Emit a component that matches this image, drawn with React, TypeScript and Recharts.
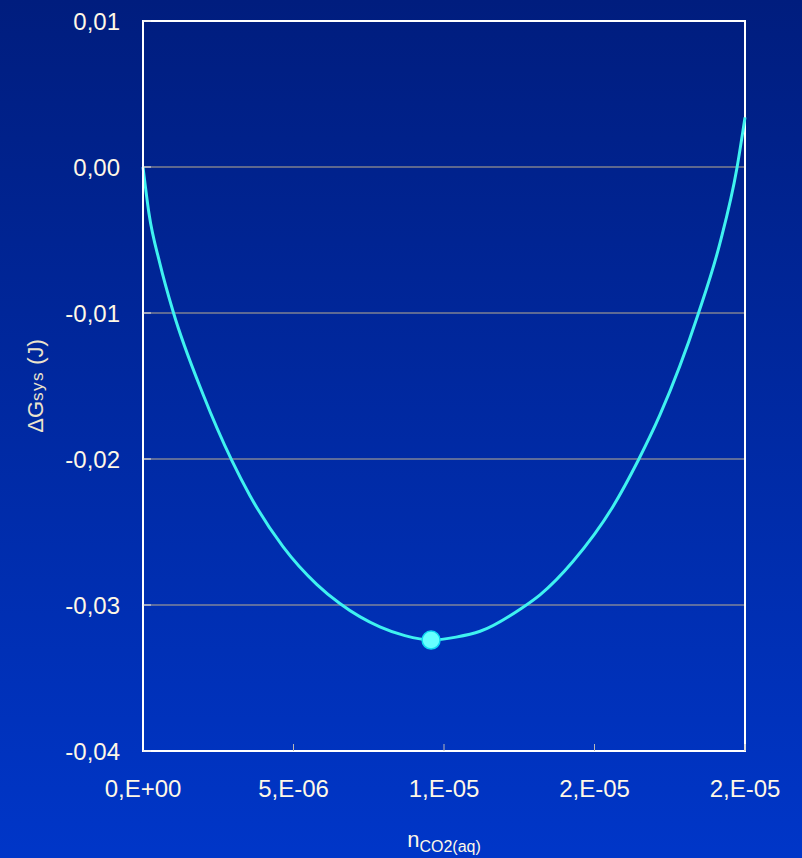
import React from "react";
import {
  LineChart,
  Line,
  XAxis,
  YAxis,
  CartesianGrid,
  ReferenceArea,
  ReferenceDot,
} from "recharts";

// n CO2(aq) in mol (read in units of 1e-6) and ΔGsys in J
const nCO2 = [0, 0.2, 0.56, 1.0, 2.0, 2.95, 3.55, 4.65, 5.78, 6.54, 7.87, 8.7, 9.57, 10.4, 11.2, 12.59, 13.19, 14.29, 15.6, 16.45, 17.17, 18.44, 19.17, 19.73, 20];
const dGsys = [0, -0.0032, -0.0066, -0.0099, -0.0156, -0.0201, -0.0225, -0.026, -0.0286, -0.0299, -0.0315, -0.0321, -0.0324, -0.0322, -0.0318, -0.0302, -0.0293, -0.027, -0.0233, -0.0201, -0.017, -0.0101, -0.0052, -0.0001, 0.0034];

// minimum marked on the curve
const minN = 9.57e-6;
const minG = -0.0324;

const xTicks = [0, 5e-6, 1e-5, 1.5e-5, 2e-5];
const xTickLabels = ["0,E+00", "5,E-06", "1,E-05", "2,E-05", "2,E-05"];
const yTicks = [-0.04, -0.03, -0.02, -0.01, 0, 0.01];
const yTickLabels = ["-0,04", "-0,03", "-0,02", "-0,01", "0,00", "0,01"];

const data = nCO2.map((n, i) => ({ n: n * 1e-6, g: dGsys[i] }));

const FONT = 'Arial, "Liberation Sans", sans-serif';
const TEXT = "#fff8e6";

const XAxisLabel = (props: any) => {
  const vb = props.viewBox;
  const cx = vb.x + vb.width / 2;
  return (
    <text x={cx} y={vb.y + 96} textAnchor="middle" fill={TEXT} fontFamily={FONT}>
      <tspan fontSize={22}>n</tspan>
      <tspan fontSize={16} dy={5}>CO2(aq)</tspan>
    </text>
  );
};

const YAxisLabel = (props: any) => {
  const vb = props.viewBox;
  const cy = vb.y + vb.height / 2;
  const x = 43;
  return (
    <text
      x={x}
      y={cy}
      textAnchor="middle"
      fill="#ece4cc"
      fontFamily={FONT}
      transform={`rotate(-90, ${x}, ${cy})`}
    >
      <tspan fontSize={22}>ΔG</tspan>
      <tspan fontSize={17} letterSpacing={1.5}>sys</tspan>
      <tspan fontSize={22}> (J)</tspan>
    </text>
  );
};

export default function App() {
  return (
    <div
      style={{
        position: "absolute",
        left: 0,
        top: 0,
        width: 802,
        height: 858,
        background: "linear-gradient(180deg, #001d7e 0%, #0036c8 100%)",
      }}
    >
      <LineChart
        width={802}
        height={858}
        data={data}
        margin={{ top: 21, right: 57, bottom: 47, left: 43 }}
      >
        <CartesianGrid vertical={false} stroke="#bcae90" strokeWidth={1} />
        <XAxis
          dataKey="n"
          type="number"
          domain={[0, 2e-5]}
          ticks={xTicks}
          tickFormatter={(v, i) => xTickLabels[i]}
          interval={0}
          height={60}
          tickSize={-7}
          tickMargin={36}
          tickLine={{ stroke: "#b8b8b8" }}
          axisLine={{ stroke: "#ffffff", strokeWidth: 2 }}
          tick={{ fill: TEXT, fontSize: 24, fontFamily: FONT }}
          label={<XAxisLabel />}
        />
        <YAxis
          type="number"
          domain={[-0.04, 0.01]}
          ticks={yTicks}
          tickFormatter={(v, i) => yTickLabels[i]}
          interval={0}
          width={100}
          tickSize={-8}
          tickMargin={31}
          tickLine={{ stroke: "#e8e8e8" }}
          axisLine={{ stroke: "#ffffff", strokeWidth: 2 }}
          tick={{ fill: TEXT, fontSize: 24, fontFamily: FONT }}
          label={<YAxisLabel />}
        />
        <ReferenceArea
          x1={0}
          x2={2e-5}
          y1={-0.04}
          y2={0.01}
          fill="none"
          fillOpacity={0}
          stroke="#ffffff"
          strokeWidth={2}
          ifOverflow="visible"
        />
        <Line
          type="monotone"
          dataKey="g"
          stroke="#3ff2f0"
          strokeWidth={3}
          dot={false}
          activeDot={false}
          isAnimationActive={false}
        />
        <ReferenceDot
          x={minN}
          y={minG}
          r={9}
          fill="#66ffff"
          stroke="#10d8f0"
          strokeWidth={1.5}
          ifOverflow="visible"
        />
      </LineChart>
    </div>
  );
}
